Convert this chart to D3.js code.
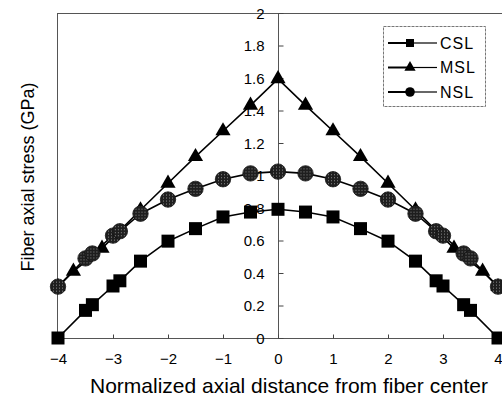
<!DOCTYPE html>
<html><head><meta charset="utf-8">
<script src="https://cdn.jsdelivr.net/npm/d3@7"></script>
<style>
body{margin:0;background:#fff}
svg{display:block}
text{font-family:"Liberation Sans",Arial,Helvetica,sans-serif;fill:#000}
</style></head><body>
<script>
// ---- data ----
const xCSL = [-4,-3.5,-3.375,-3,-2.875,-2.5,-2,-1.5,-1,-0.5,0,0.5,1,1.5,2,2.5,2.875,3,3.375,3.5,4];
const yCSL = [0,0.17,0.205,0.32,0.352,0.473,0.596,0.673,0.745,0.775,0.792,0.775,0.745,0.673,0.596,0.473,0.352,0.32,0.205,0.17,0];
const xMSL = [-4,-3.72,-3.2,-2.5,-2,-1.5,-1,-0.5,0,0.5,1,1.5,2,2.5,3.2,3.72,4];
const yMSL = [0.316,0.41,0.552,0.788,0.952,1.116,1.274,1.432,1.595,1.432,1.274,1.116,0.952,0.788,0.552,0.41,0.316];
const xNSL = [-4,-3.5,-3.375,-3,-2.875,-2.5,-2,-1.5,-1,-0.5,0,0.5,1,1.5,2,2.5,2.875,3,3.375,3.5,4];
const yNSL = [0.316,0.49,0.52,0.63,0.657,0.765,0.852,0.918,0.977,1.013,1.024,1.013,0.977,0.918,0.852,0.765,0.657,0.63,0.52,0.49,0.316];
const seriesNames = ["CSL","MSL","NSL"];
const xTicks = [-4,-3,-2,-1,0,1,2,3,4];
const yTicks = [0,0.2,0.4,0.6,0.8,1,1.2,1.4,1.6,1.8,2];
const xTitle = "Normalized axial distance from fiber center";
const yTitle = "Fiber axial stress (GPa)";

const W = 502, H = 401;
const svg = d3.select("body").append("svg").attr("width", W).attr("height", H);

const defs = svg.append("defs");
const pat = defs.append("pattern").attr("id","speck").attr("width",3).attr("height",3)
  .attr("patternUnits","userSpaceOnUse");
pat.append("rect").attr("width",3).attr("height",3).attr("fill","#1e1e1e");
pat.append("rect").attr("x",1).attr("y",1).attr("width",1).attr("height",1).attr("fill","#8a8a8a");

const x = d3.scaleLinear().domain([-4,4]).range([58,498]);
const y = d3.scaleLinear().domain([0,2]).range([338,13]);

// frame
const fr = svg.append("g").attr("stroke","#555").attr("stroke-width",1).attr("fill","none");
fr.append("line").attr("x1",57).attr("x2",502).attr("y1",13.5).attr("y2",13.5);
fr.append("line").attr("x1",57.5).attr("x2",57.5).attr("y1",13).attr("y2",338);
fr.append("line").attr("x1",57).attr("x2",502).attr("y1",y(0)+0.5).attr("y2",y(0)+0.5);
fr.append("line").attr("x1",x(0)+0.5).attr("x2",x(0)+0.5).attr("y1",13).attr("y2",338);

// axes
const fmt = d3.format("~g");
const yAx = svg.append("g").attr("transform",`translate(${x(0)+0.5},0)`)
  .call(d3.axisLeft(y).tickValues(yTicks).tickFormat(fmt).tickSize(-5).tickPadding(14));
const xAx = svg.append("g").attr("transform",`translate(0,${y(0)+0.5})`)
  .call(d3.axisBottom(x).tickValues(xTicks).tickFormat(fmt).tickSize(-4).tickPadding(15));
[yAx,xAx].forEach(a=>{
  a.select(".domain").remove();
  a.selectAll("line").attr("stroke","#444");
  a.selectAll("text").attr("font-size",15).attr("font-family",'"Liberation Sans",Arial,sans-serif').attr("fill","#000");
});
yAx.selectAll("text").attr("dy","0.36em");

// titles
svg.append("text").attr("x",289).attr("y",393).attr("text-anchor","middle")
  .attr("font-size",21).text(xTitle);
svg.append("text").attr("transform",`translate(34,177) rotate(-90)`).attr("text-anchor","middle")
  .attr("font-size",18).text(yTitle);

// series
const line = d3.line().x(d=>x(d[0])).y(d=>y(d[1]));
const sym = {
  CSL: d3.symbol().type(d3.symbolSquare).size(169),
  MSL: d3.symbol().type(d3.symbolTriangle).size(100),
  NSL: d3.symbol().type(d3.symbolCircle).size(Math.PI*7.7*7.7)
};
const fills = {CSL:"#000", MSL:"#000", NSL:"url(#speck)"};
const data = {
  CSL: xCSL.map((v,i)=>[v,yCSL[i]]),
  MSL: xMSL.map((v,i)=>[v,yMSL[i]]),
  NSL: xNSL.map((v,i)=>[v,yNSL[i]])
};
seriesNames.forEach(n=>{
  const g = svg.append("g");
  g.append("path").datum(data[n]).attr("d",line).attr("fill","none")
    .attr("stroke","#000").attr("stroke-width",1.6);
  g.selectAll("path.m").data(data[n]).join("path").attr("class","m")
    .attr("transform",d=>`translate(${x(d[0])},${y(d[1])})`)
    .attr("d",sym[n]()).attr("fill",fills[n])
    .attr("stroke",n==="NSL"?"#111":"none").attr("stroke-width",0.8);
});

// legend
const lg = svg.append("g");
lg.append("rect").attr("x",383.5).attr("y",26.5).attr("width",102).attr("height",80)
  .attr("fill","#fff").attr("stroke","#777").attr("stroke-dasharray","3,1");
const lsym = {
  CSL: d3.symbol().type(d3.symbolSquare).size(64),
  MSL: d3.symbol().type(d3.symbolTriangle).size(55),
  NSL: d3.symbol().type(d3.symbolCircle).size(Math.PI*4.8*4.8)
};
seriesNames.forEach((n,i)=>{
  const cy = 43 + i*24.5;
  lg.append("line").attr("x1",388).attr("x2",410).attr("y1",cy).attr("y2",cy).attr("stroke","#000").attr("stroke-width",2);
  lg.append("line").attr("x1",410).attr("x2",437).attr("y1",cy).attr("y2",cy).attr("stroke","#000").attr("stroke-width",1.2);
  lg.append("path").attr("transform",`translate(410,${cy})`).attr("d",lsym[n]()).attr("fill","#000");
  lg.append("text").attr("x",440).attr("y",cy).attr("dy","0.36em").attr("font-size",16)
    .attr("letter-spacing",1).text(n);
});
</script>
</body></html>
